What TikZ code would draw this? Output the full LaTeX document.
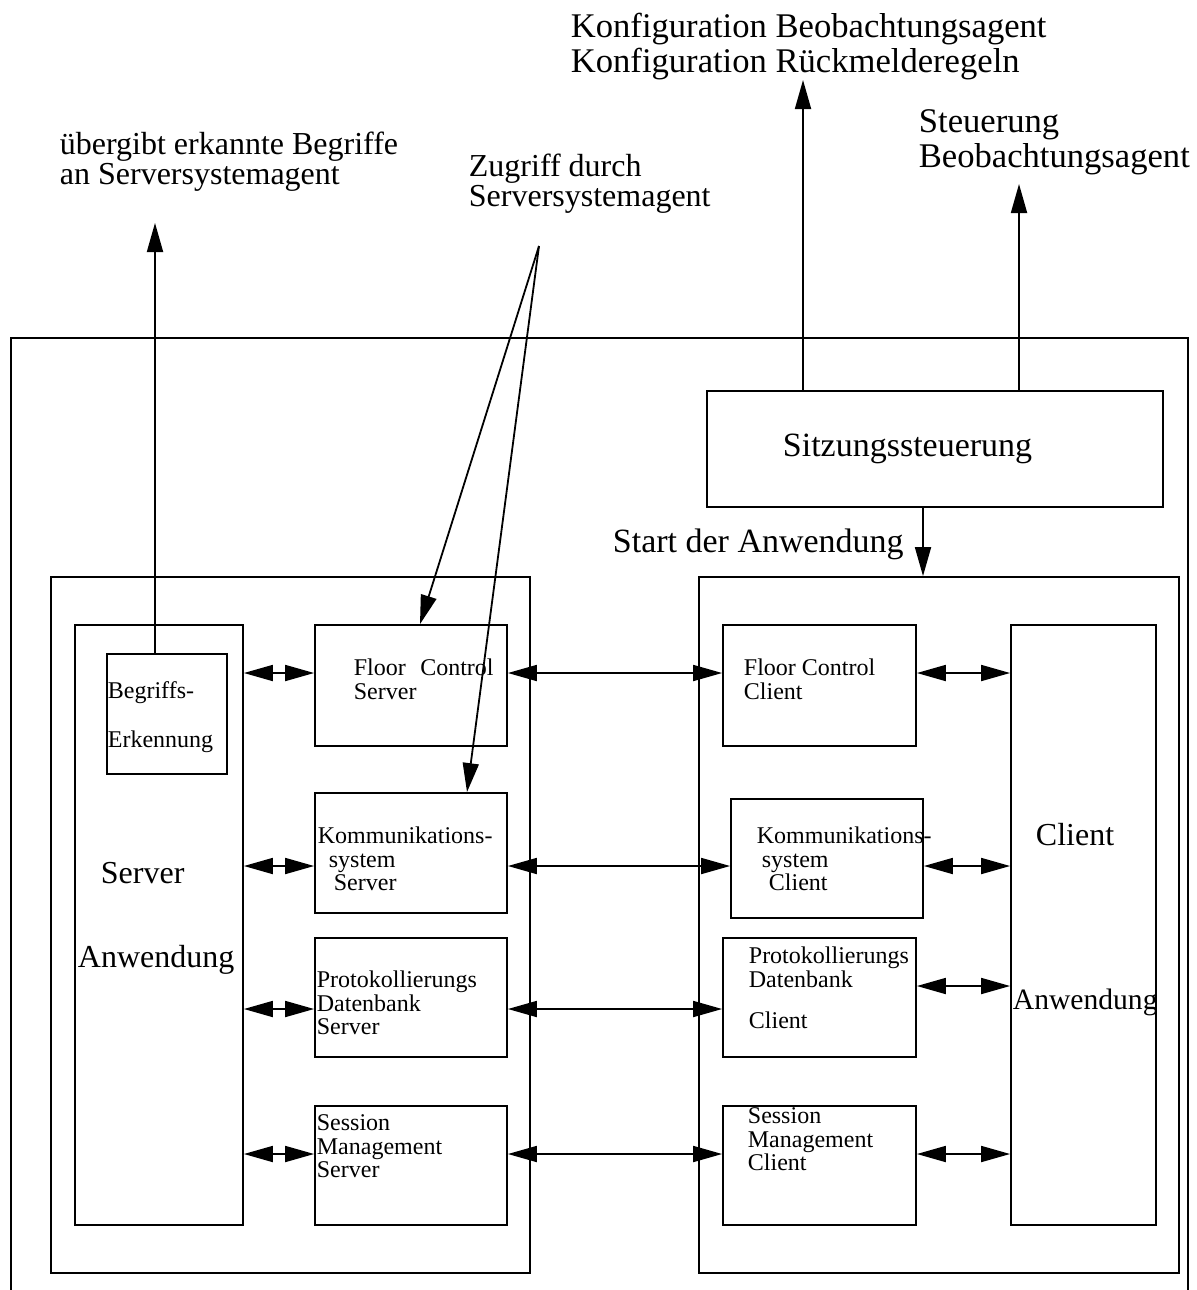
\documentclass[tikz,border=0pt]{standalone}
\usepackage{fontspec}
\setmainfont{Liberation Serif}
\usetikzlibrary{arrows.meta}

\begin{document}
\begin{tikzpicture}[x=0.5pt, y=-0.5pt, line width=0.9pt,
  >={Triangle[length=14.5pt, width=8pt]},
  box/.style 2 args = {draw, inner sep=0, minimum width=#1, minimum height=#2},
  small/.style = {inner sep=0, anchor=north west, align=left, font=\fontsize{12}{11.75}\selectfont},
  big/.style = {inner sep=0, anchor=north west, align=left, font=\fontsize{16}{16.5}\selectfont}]
  \useasboundingbox (0,0) rectangle (1196,1290);
  \draw (11,1290) -- (11,338) -- (1188,338) -- (1188,1290);

  \node[box={228pt}{58pt}] (1) at (935,449) {};
  \node[box={239.5pt}{348pt}] (2) at (290.5,925) {};
  \node[box={240pt}{348pt}] (3) at (939,925) {};
  \node[box={84pt}{300pt}] (4) at (159,925) {};
  \node[box={60pt}{60pt}] (5) at (167,714) {};
  \node[box={96pt}{60.5pt}] (6) at (411,685.5) {};
  \node[box={96pt}{60pt}] (7) at (411,853) {};
  \node[box={96pt}{59.5pt}] (8) at (411,997.5) {};
  \node[box={96pt}{59.5pt}] (9) at (411,1165.5) {};
  \node[box={96.5pt}{60.5pt}] (10) at (819.5,685.5) {};
  \node[box={96pt}{59.5pt}] (11) at (827,858.5) {};
  \node[box={96.5pt}{59.5pt}] (12) at (819.5,997.5) {};
  \node[box={96.5pt}{59.5pt}] (13) at (819.5,1165.5) {};
  \node[box={72.5pt}{300pt}] (14) at (1083.5,925) {};

  \node[big, font=\fontsize{17}{17}\selectfont] (t1) at (782,433) {Sitzungssteuerung};
  \node[big, font=\fontsize{17}{17}\selectfont] (t2) at (612,528) {Start der Anwendung};
  \node[big, font=\fontsize{17.3}{17.8}\selectfont] (t3) at (570,12) {Konfiguration Beobachtungsagent\\Konfiguration Rückmelderegeln};
  \node[big, font=\fontsize{17.3}{17.5}\selectfont] (t4) at (918,109) {Steuerung\\Beobachtungsagent};
  \node[big, font=\fontsize{16}{15}\selectfont] (t5) at (59,131) {übergibt erkannte Begriffe\\an Serversystemagent};
  \node[big, font=\fontsize{16}{15}\selectfont] (t6) at (468,153) {Zugriff durch\\Serversystemagent};
  \node[big] (t7) at (100,861) {Server};
  \node[big] (t8) at (77,944) {Anwendung};
  \node[big] (t9) at (1035,822) {Client};
  \node[big, font=\fontsize{14.8}{15}\selectfont] (t10) at (1012,988) {Anwendung};
  \node[small] (t11) at (107,681) {Begriffs-\\[12.5pt]Erkennung};
  \node[small] (t12) at (353,658) {Floor\hspace{0.6em}Control\\Server};
  \node[small] (t13) at (317,826) {Kommunikations-\\\hspace*{5.5pt}system\\\hspace*{8pt}Server};
  \node[small] (t14) at (316,970) {Protokollierungs\\Datenbank\\Server};
  \node[small] (t15) at (316,1114) {Session\\Management\\Server};
  \node[small] (t16) at (743,658) {Floor Control\\Client};
  \node[small] (t17) at (756,826) {Kommunikations-\\\hspace*{2.5pt}system\\\hspace*{6pt}Client};
  \node[small] (t18) at (748,946) {Protokollierungs\\Datenbank\\[9pt]Client};
  \node[small] (t19) at (747,1107) {Session\\Management\\Client};

  \coordinate (r1) at (0,673);
  \coordinate (r2) at (0,866);
  \coordinate (r3) at (0,1009);
  \coordinate (r4) at (0,1154);
  \coordinate (r5) at (0,986);
  \draw[<->] (4.east |- r1) -- (6.west |- r1);
  \draw[<->] (4.east |- r2) -- (7.west |- r2);
  \draw[<->] (4.east |- r3) -- (8.west |- r3);
  \draw[<->] (4.east |- r4) -- (9.west |- r4);
  \draw[<->] (6.east |- r1) -- (10.west |- r1);
  \draw[<->] (7.east |- r2) -- (11.west |- r2);
  \draw[<->] (8.east |- r3) -- (12.west |- r3);
  \draw[<->] (9.east |- r4) -- (13.west |- r4);
  \draw[<->] (10.east |- r1) -- (14.west |- r1);
  \draw[<->] (11.east |- r2) -- (14.west |- r2);
  \draw[<->] (12.east |- r5) -- (14.west |- r5);
  \draw[<->] (13.east |- r4) -- (14.west |- r4);

  \coordinate (z) at (539,246);
  \draw[->] (z) -- ([xshift=4.5pt]6.north);
  \draw[->] (z) -- ([xshift=28pt]7.north);
  \coordinate (b) at (155,223);
  \draw[->] (5.north -| b) -- (b);
  \coordinate (k1) at (803,80);
  \coordinate (k2) at (1019,184);
  \draw[->] (1.north -| k1) -- (k1);
  \draw[->] (1.north -| k2) -- (k2);
  \coordinate (s) at (923,0);
  \draw[->] (1.south -| s) -- (3.north -| s);
\end{tikzpicture}
\end{document}
